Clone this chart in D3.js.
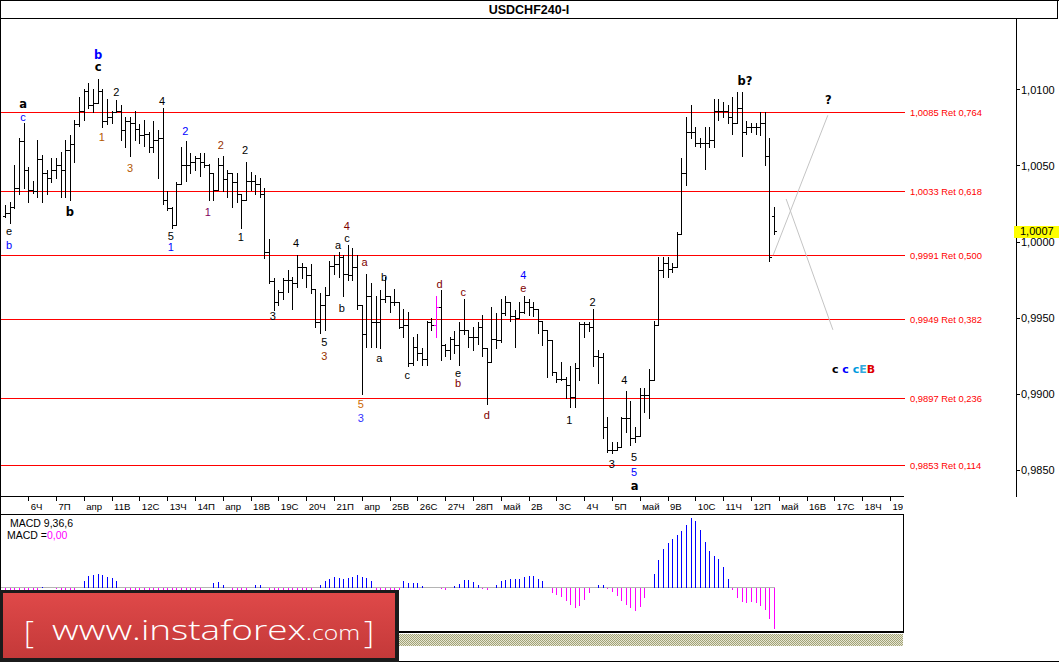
<!DOCTYPE html>
<html>
<head>
<meta charset="utf-8">
<script src="https://cdn.jsdelivr.net/npm/d3@7"></script>
<style>
body { margin: 0; background: #fff; }
svg { display: block; }
text { font-family: "Liberation Sans", Arial, sans-serif; }
</style>
</head>
<body>
<div id="chart"></div>
<script>
//size of the picture
var W = 1059, H = 662;

//USDCHF H4 bars, bar 0 is the first bar on the left
var opens = [
1.0017,1.0019,1.0023,1.0035,1.0066,1.0047,1.0034,1.0033,1.0054,1.0045,
1.0042,1.0047,1.0050,1.0047,1.0060,1.0064,1.0077,1.0086,1.0099,1.0090,
1.0091,1.0099,1.0079,1.0082,1.0085,1.0086,1.0073,1.0079,1.0078,1.0074,
1.0070,1.0071,1.0062,1.0067,1.0068,1.0027,1.0022,1.0011,1.0038,1.0050,
1.0050,1.0052,1.0055,1.0052,1.0050,1.0045,1.0034,1.0050,1.0041,1.0045,
1.0039,1.0031,1.0027,1.0040,1.0040,1.0038,1.0031,0.9993,0.9974,0.9960,
0.9967,0.9975,0.9975,0.9973,0.9983,0.9983,0.9978,0.9969,0.9947,0.9958,
0.9965,0.9984,0.9985,0.9990,0.9979,0.9978,0.9983,0.9958,0.9939,0.9964,
0.9947,0.9947,0.9962,0.9964,0.9960,0.9960,0.9944,0.9945,0.9920,0.9931,
0.9927,0.9923,0.9947,0.9945,0.9957,0.9932,0.9929,0.9936,0.9932,0.9942,
0.9942,0.9937,0.9937,0.9944,0.9930,0.9921,0.9936,0.9935,0.9953,0.9960,
0.9951,0.9950,0.9954,0.9960,0.9957,0.9956,0.9948,0.9942,0.9935,0.9914,
0.9910,0.9910,0.9906,0.9898,0.9917,0.9946,0.9946,0.9944,0.9925,0.9924,
0.9878,0.9863,0.9863,0.9865,0.9884,0.9884,0.9871,0.9872,0.9899,0.9899,
0.9909,0.9945,0.9981,0.9986,0.9982,0.9983,1.0005,1.0045,1.0072,1.0072,
1.0065,1.0065,1.0065,1.0067,1.0086,1.0086,1.0086,1.0082,1.0078,1.0088,
1.0072,1.0075,1.0075,1.0075,1.0078,1.0056,1.0017];
var highs = [
1.0024,1.0026,1.0050,1.0068,1.0078,1.0049,1.0040,1.0067,1.0057,1.0047,
1.0055,1.0055,1.0059,1.0067,1.0070,1.0080,1.0095,1.0100,1.0104,1.0100,
1.0107,1.0100,1.0094,1.0086,1.0093,1.0090,1.0082,1.0082,1.0086,1.0077,
1.0080,1.0072,1.0079,1.0073,1.0088,1.0033,1.0023,1.0039,1.0062,1.0066,
1.0058,1.0056,1.0058,1.0058,1.0051,1.0045,1.0055,1.0056,1.0047,1.0045,
1.0045,1.0031,1.0052,1.0046,1.0044,1.0042,1.0035,1.0002,0.9976,0.9968,
0.9976,0.9981,0.9977,0.9991,0.9986,0.9983,0.9985,0.9969,0.9966,0.9970,
0.9987,0.9991,0.9993,0.9991,0.9998,0.9996,0.9991,0.9958,0.9979,0.9973,
0.9964,0.9968,0.9977,0.9964,0.9969,0.9960,0.9956,0.9954,0.9937,0.9939,
0.9930,0.9948,0.9950,0.9964,0.9968,0.9933,0.9937,0.9941,0.9947,0.9962,
0.9942,0.9944,0.9947,0.9952,0.9930,0.9957,0.9953,0.9962,0.9964,0.9960,
0.9955,0.9960,0.9964,0.9962,0.9960,0.9956,0.9948,0.9942,0.9935,0.9914,
0.9921,0.9911,0.9918,0.9920,0.9947,0.9947,0.9947,0.9956,0.9929,0.9927,
0.9885,0.9868,0.9868,0.9885,0.9902,0.9895,0.9878,0.9904,0.9904,0.9916,
0.9948,0.9990,0.9990,0.9990,0.9986,1.0006,1.0055,1.0082,1.0090,1.0075,
1.0068,1.0075,1.0075,1.0094,1.0094,1.0092,1.0090,1.0095,1.0098,1.0098,
1.0079,1.0078,1.0078,1.0085,1.0085,1.0068,1.0023];
var lows = [
1.0016,1.0012,1.0022,1.0031,1.0035,1.0026,1.0032,1.0029,1.0026,1.0031,
1.0039,1.0042,1.0029,1.0029,1.0027,1.0052,1.0076,1.0080,1.0088,1.0085,
1.0091,1.0075,1.0077,1.0078,1.0085,1.0067,1.0062,1.0056,1.0067,1.0065,
1.0063,1.0059,1.0059,1.0042,1.0025,1.0021,1.0009,1.0011,1.0038,1.0040,
1.0045,1.0047,1.0043,1.0049,1.0027,1.0027,1.0034,1.0033,1.0029,1.0023,
1.0026,1.0009,1.0027,1.0034,1.0031,1.0029,0.9989,0.9973,0.9955,0.9958,
0.9962,0.9967,0.9956,0.9970,0.9976,0.9970,0.9966,0.9944,0.9940,0.9942,
0.9965,0.9979,0.9977,0.9964,0.9975,0.9975,0.9956,0.9900,0.9931,0.9931,
0.9931,0.9930,0.9960,0.9954,0.9958,0.9943,0.9937,0.9918,0.9919,0.9922,
0.9919,0.9919,0.9942,0.9937,0.9922,0.9925,0.9923,0.9927,0.9919,0.9939,
0.9931,0.9929,0.9933,0.9925,0.9893,0.9921,0.9930,0.9934,0.9952,0.9948,
0.9931,0.9950,0.9953,0.9952,0.9951,0.9940,0.9932,0.9911,0.9912,0.9908,
0.9909,0.9897,0.9891,0.9891,0.9909,0.9937,0.9941,0.9918,0.9907,0.9871,
0.9862,0.9861,0.9863,0.9865,0.9875,0.9866,0.9868,0.9872,0.9888,0.9884,
0.9909,0.9945,0.9977,0.9977,0.9980,0.9983,1.0005,1.0037,1.0068,1.0063,
1.0062,1.0048,1.0062,1.0062,1.0080,1.0082,1.0078,1.0071,1.0078,1.0056,
1.0071,1.0072,1.0071,1.0070,1.0050,0.9987,1.0005];
var closes = [
1.0019,1.0023,1.0035,1.0066,1.0047,1.0034,1.0033,1.0054,1.0045,1.0042,
1.0047,1.0050,1.0047,1.0060,1.0064,1.0077,1.0086,1.0099,1.0090,1.0091,
1.0099,1.0079,1.0082,1.0085,1.0086,1.0073,1.0079,1.0078,1.0074,1.0070,
1.0071,1.0062,1.0067,1.0068,1.0027,1.0022,1.0011,1.0038,1.0050,1.0050,
1.0052,1.0055,1.0052,1.0050,1.0045,1.0034,1.0050,1.0041,1.0045,1.0039,
1.0031,1.0027,1.0040,1.0040,1.0038,1.0031,0.9993,0.9974,0.9960,0.9967,
0.9975,0.9975,0.9973,0.9983,0.9983,0.9978,0.9969,0.9947,0.9958,0.9965,
0.9984,0.9985,0.9990,0.9979,0.9978,0.9983,0.9958,0.9939,0.9964,0.9947,
0.9947,0.9962,0.9964,0.9960,0.9960,0.9944,0.9945,0.9920,0.9931,0.9927,
0.9923,0.9947,0.9945,0.9957,0.9932,0.9929,0.9936,0.9932,0.9942,0.9942,
0.9937,0.9937,0.9944,0.9930,0.9921,0.9936,0.9935,0.9953,0.9960,0.9951,
0.9950,0.9954,0.9960,0.9957,0.9956,0.9948,0.9942,0.9935,0.9914,0.9910,
0.9910,0.9906,0.9898,0.9917,0.9946,0.9946,0.9944,0.9925,0.9924,0.9878,
0.9863,0.9863,0.9865,0.9884,0.9884,0.9871,0.9872,0.9899,0.9899,0.9909,
0.9945,0.9981,0.9986,0.9982,0.9983,1.0005,1.0045,1.0072,1.0072,1.0065,
1.0065,1.0065,1.0067,1.0086,1.0086,1.0086,1.0082,1.0078,1.0088,1.0072,
1.0075,1.0075,1.0075,1.0078,1.0056,0.9990,1.0007];
//the one bar drawn in magenta
var magentaBars = [93];

//MACD 9,36,6 histogram, in points (0.00001)
var macd = [
-12,-12,-12,-12,-12,-12,-8,-8,4,0,
0,-4,-12,-12,-12,-8,0,28,48,52,
56,52,44,40,28,0,-8,-16,-20,-24,
-28,-28,-32,-32,-32,-28,-32,-40,-36,-28,
-20,-16,-12,0,0,20,24,12,0,-12,
-16,-16,-12,0,12,12,0,-12,-24,-36,
-40,-40,-36,-32,-24,-16,-8,0,12,28,
36,44,40,36,40,44,52,44,40,28,
-8,-16,-20,-20,-16,-8,28,20,20,20,
8,0,0,0,-4,-8,0,8,16,32,
32,24,12,-4,-8,0,12,28,32,36,
36,36,44,48,48,36,28,0,-20,-28,
-36,-52,-68,-80,-72,-48,-20,0,12,12,
-4,-16,-32,-52,-68,-80,-92,-76,-40,0,
56,112,156,180,196,212,228,252,280,268,
232,184,148,128,116,84,36,-8,-40,-56,
-60,-56,-60,-72,-88,-124,-164];

//day labels, first one on bar 5 then one every 6 bars
var dayLabels = ["6Ч","7П","апр","11В","12С","13Ч","14П","апр","18В","19С","20Ч","21П","апр","25В","26С","27Ч","28П","май","2В","3С","4Ч","5П","май","9В","10С","11Ч","12П","май","16В","17С","18Ч","19П"];
var firstDayBar = 5, barsPerDay = 6;

//price axis
var priceTicks = [0.985, 0.990, 0.995, 1.000, 1.005, 1.010];
var lastPrice = 1.0007;

//retracement levels
var fibLevels = [1.0085, 1.0033, 0.9991, 0.9949, 0.9897, 0.9853];
var fibRatios = ["0,764", "0,618", "0,500", "0,382", "0,236", "0,114"];

//gray forecast lines [bar, price]
var forecastLines = [
    [[165.8, 0.9991], [177.6, 1.0083]],
    [[168.6, 1.0028], [178.7, 0.9942]]
];

//wave marks: bar, price, text, color, bold
var waveLabels = [
    [0.9, 1.0007, "e", "#000", 0],
    [0.9, 0.9998, "b", "#0000ff", 0],
    [3.9, 1.00904, "a", "#000", 1],
    [3.9, 1.00819, "c", "#0000ff", 0],
    [20.1, 1.01226, "b", "#0000ff", 1],
    [20.1, 1.01147, "c", "#000", 1],
    [14.0, 1.00195, "b", "#000", 1],
    [20.9, 1.00687, "1", "#b35900", 0],
    [24.0, 1.00983, "2", "#000", 0],
    [27.0, 1.00484, "3", "#b35900", 0],
    [33.9, 1.00924, "4", "#000", 0],
    [35.8, 1.00037, "5", "#000", 0],
    [35.8, 0.99962, "1", "#0000ff", 0],
    [38.9, 1.00727, "2", "#0000ff", 0],
    [43.8, 1.00195, "1", "#800060", 0],
    [46.6, 1.00635, "2", "#993300", 0],
    [50.9, 1.0003, "1", "#000", 0],
    [51.8, 1.00602, "2", "#000", 0],
    [57.8, 0.99511, "3", "#000", 0],
    [62.8, 0.99991, "4", "#000", 0],
    [68.9, 0.9934, "5", "#000", 0],
    [68.9, 0.99248, "3", "#993300", 0],
    [71.9, 0.9998, "a", "#000", 0],
    [72.7, 0.99564, "b", "#000", 0],
    [73.8, 1.00024, "c", "#000", 0],
    [73.8, 1.00103, "4", "#800000", 0],
    [77.6, 0.99866, "a", "#800000", 0],
    [76.8, 0.98933, "5", "#cc6600", 0],
    [76.8, 0.98841, "3", "#3333ff", 0],
    [81.8, 0.99767, "b", "#000", 0],
    [80.8, 0.99235, "a", "#000", 0],
    [86.8, 0.99123, "c", "#000", 0],
    [93.8, 0.99721, "d", "#800000", 0],
    [98.9, 0.99669, "c", "#800000", 0],
    [97.8, 0.99136, "e", "#000", 0],
    [97.8, 0.99071, "b", "#800000", 0],
    [104.0, 0.9886, "d", "#800000", 0],
    [111.9, 0.9978, "4", "#0000ff", 0],
    [111.9, 0.99695, "e", "#800000", 0],
    [121.8, 0.98828, "1", "#000", 0],
    [126.8, 0.99603, "2", "#000", 0],
    [133.7, 0.9909, "4", "#000", 0],
    [131.0, 0.98538, "3", "#000", 0],
    [135.8, 0.98584, "5", "#000", 0],
    [135.8, 0.98486, "5", "#0000ff", 0],
    [135.9, 0.98394, "a", "#000", 1],
    [159.7, 1.01055, "b?", "#000", 1],
    [177.7, 1.00931, "?", "#000", 1]
];
//the colored "c c c E B" mark
var scenarioMark = {bar: 178.5, price: 0.99163,
    parts: [["c ", "#000"], ["c ", "#0000ff"], ["c", "#0099dd"], ["E", "#33aadd"], ["B", "#dd0000"]]};

//formats like 1,0085
function fmt(p) {
    return d3.format(".4f")(p).replace(".", ",");
}

//scales
var x = d3.scaleLinear().domain([0, 194]).range([5, 903.8]);
var y = d3.scaleLinear().domain([0.985, 1.010]).range([469.8, 89.4]);
var yMacd = d3.scaleLinear()
    .domain([d3.min(macd) - 8, d3.max(macd) + 8])
    .range([630, 515]);

function cx(i) { return Math.round(x(i)) + 0.5; }
function cy(p) { return Math.round(y(p)) + 0.5; }

var svg = d3.select("#chart").append("svg").attr("width", W).attr("height", H);
svg.append("rect").attr("width", W).attr("height", H).attr("fill", "#fff");

var defs = svg.append("defs");
var grad = defs.append("linearGradient").attr("id", "boxRed")
    .attr("x1", 0).attr("y1", 0).attr("x2", 0).attr("y2", 1);
grad.append("stop").attr("offset", "0%").attr("stop-color", "#df4949");
grad.append("stop").attr("offset", "100%").attr("stop-color", "#c43939");
var pat = defs.append("pattern").attr("id", "hatch")
    .attr("width", 2).attr("height", 2).attr("patternUnits", "userSpaceOnUse");
pat.append("rect").attr("width", 2).attr("height", 2).attr("fill", "#e6e6d4");
pat.append("rect").attr("width", 1).attr("height", 1).attr("fill", "#a3a377");
pat.append("rect").attr("x", 1).attr("y", 1).attr("width", 1).attr("height", 1).attr("fill", "#a3a377");
defs.append("clipPath").attr("id", "plotClip").append("rect")
    .attr("x", 1).attr("y", 19).attr("width", 903).attr("height", 477);
defs.append("clipPath").attr("id", "axisClip").append("rect")
    .attr("x", 1).attr("y", 496).attr("width", 902).attr("height", 18);

var frame = svg.append("g").attr("stroke", "#000").attr("shape-rendering", "crispEdges");
function seg(g, x1, y1, x2, y2) {
    return g.append("line").attr("x1", x1).attr("y1", y1).attr("x2", x2).attr("y2", y2);
}

//title bar
seg(frame, 0, 0.5, W, 0.5);
seg(frame, 0, 18.5, W - 1, 18.5);
seg(frame, W - 1.5, 0, W - 1.5, 18.5);
seg(frame, 0.5, 0, 0.5, H);
seg(frame, 0, H - 0.5, W, H - 0.5);
svg.append("text").attr("x", 529).attr("y", 14).attr("text-anchor", "middle")
    .attr("font-size", 12.5).attr("font-weight", "bold").text("USDCHF240-I");

//bottom of price panel and price axis line
seg(frame, 0, 496.5, 904, 496.5);
seg(frame, 1016.5, 18, 1016.5, 497);

//fibo levels, drawn as 1px rows so they stay pure red
var fib = svg.append("g");
fib.selectAll("rect").data(fibLevels).enter().append("rect")
    .attr("x", 1).attr("width", x(194.3) - 1)
    .attr("y", function (d) { return Math.round(y(d)); })
    .attr("height", 1)
    .attr("fill", "#ff0000").attr("shape-rendering", "crispEdges");
fib.selectAll("text").data(fibLevels).enter().append("text")
    .attr("x", 910)
    .attr("y", function (d) { return y(d) + 3.5; })
    .attr("font-size", 9.4).attr("fill", "#ff0000")
    .text(function (d, i) { return fmt(d) + " Ret " + fibRatios[i]; });

//forecast lines
svg.append("g").selectAll("line").data(forecastLines).enter().append("line")
    .attr("x1", function (d) { return x(d[0][0]); })
    .attr("y1", function (d) { return y(d[0][1]); })
    .attr("x2", function (d) { return x(d[1][0]); })
    .attr("y2", function (d) { return y(d[1][1]); })
    .attr("stroke", "#c4c4c4").attr("stroke-width", 1);

//price bars
var bars = d3.range(closes.length).map(function (i) {
    return {i: i, o: opens[i], h: highs[i], l: lows[i], c: closes[i]};
});
var plot = svg.append("g").attr("clip-path", "url(#plotClip)").attr("shape-rendering", "crispEdges");
var bar = plot.selectAll("g.bar").data(bars).enter().append("g")
    .attr("class", "bar")
    .attr("stroke", function (d) { return magentaBars.indexOf(d.i) >= 0 ? "#ff00ff" : "#000"; });
bar.append("line")
    .attr("x1", function (d) { return cx(d.i); })
    .attr("x2", function (d) { return cx(d.i); })
    .attr("y1", function (d) { return Math.round(y(d.h)); })
    .attr("y2", function (d) { return Math.round(y(d.l)) + 1; });
bar.append("line")
    .attr("x1", function (d) { return cx(d.i) - 2.5; })
    .attr("x2", function (d) { return cx(d.i); })
    .attr("y1", function (d) { return cy(d.o); })
    .attr("y2", function (d) { return cy(d.o); });
bar.append("line")
    .attr("x1", function (d) { return cx(d.i); })
    .attr("x2", function (d) { return cx(d.i) + 2.5; })
    .attr("y1", function (d) { return cy(d.c); })
    .attr("y2", function (d) { return cy(d.c); });

//wave labels
svg.append("g").selectAll("text").data(waveLabels).enter().append("text")
    .attr("x", function (d) { return x(d[0]); })
    .attr("y", function (d) { return y(d[1]) + 4; })
    .attr("text-anchor", "middle")
    .attr("fill", function (d) { return d[3]; })
    .attr("font-size", function (d) { return d[4] ? 11.5 : 11; })
    .attr("font-weight", function (d) { return d[4] ? "bold" : "normal"; })
    .style("font-family", function (d) { return d[4] ? "'DejaVu Sans', Verdana, sans-serif" : null; })
    .text(function (d) { return d[2]; });

var mark = svg.append("text")
    .attr("x", x(scenarioMark.bar)).attr("y", y(scenarioMark.price) + 4)
    .attr("font-size", 11).attr("font-weight", "bold")
    .style("font-family", "'DejaVu Sans', Verdana, sans-serif");
mark.selectAll("tspan").data(scenarioMark.parts).enter().append("tspan")
    .attr("fill", function (d) { return d[1]; })
    .text(function (d) { return d[0]; });

//price axis
var pa = svg.append("g");
pa.selectAll("line").data(priceTicks).enter().append("line")
    .attr("x1", 1016).attr("x2", 1020)
    .attr("y1", function (d) { return cy(d); })
    .attr("y2", function (d) { return cy(d); })
    .attr("stroke", "#000").attr("shape-rendering", "crispEdges");
pa.selectAll("text").data(priceTicks).enter().append("text")
    .attr("x", 1021).attr("y", function (d) { return y(d) + 4.5; })
    .attr("font-size", 11).text(fmt);

//last price tag
svg.append("rect").attr("x", 1014).attr("y", Math.round(y(lastPrice)) - 5)
    .attr("width", 45).attr("height", 12).attr("fill", "#ffff00");
svg.append("text").attr("x", 1020).attr("y", y(lastPrice) + 4.5)
    .attr("font-size", 11).text(fmt(lastPrice));

//day axis
var days = svg.append("g").attr("clip-path", "url(#axisClip)");
days.selectAll("line").data(dayLabels).enter().append("line")
    .attr("x1", function (d, k) { return cx(firstDayBar + k * barsPerDay); })
    .attr("x2", function (d, k) { return cx(firstDayBar + k * barsPerDay); })
    .attr("y1", 497).attr("y2", 501)
    .attr("stroke", "#000").attr("shape-rendering", "crispEdges");
days.selectAll("text").data(dayLabels).enter().append("text")
    .attr("x", function (d, k) { return x(firstDayBar + k * barsPerDay) + 2.5; })
    .attr("y", 509.5)
    .attr("font-size", 9.6)
    .text(function (d) { return d; });

//MACD panel
var mp = svg.append("g").attr("shape-rendering", "crispEdges");
mp.append("rect").attr("x", 0.5).attr("y", 514.5).attr("width", 902.5).attr("height", 117)
    .attr("fill", "none").attr("stroke", "#000");
seg(mp, 0, 632, 903.5, 632).attr("stroke", "#000");
mp.append("rect").attr("x", 0).attr("y", 634).attr("width", 903).attr("height", 12).attr("fill", "url(#hatch)");
seg(mp, 1, Math.round(yMacd(0)) + 0.5, cx(macd.length - 1), Math.round(yMacd(0)) + 0.5)
    .attr("stroke", "#b4b4b4");
mp.selectAll("line.h").data(macd).enter().append("line")
    .attr("class", "h")
    .attr("x1", function (d, i) { return cx(i); })
    .attr("x2", function (d, i) { return cx(i); })
    .attr("y1", Math.round(yMacd(0)) + 0.5)
    .attr("y2", function (d) { return Math.round(yMacd(d)) + 0.5; })
    .attr("stroke", function (d) { return d > 0 ? "#0000ff" : "#ff00ff"; });

svg.append("text").attr("x", 10).attr("y", 527).attr("font-size", 10.5).text("MACD 9,36,6");
var mv = svg.append("text").attr("x", 7).attr("y", 538.5).attr("font-size", 10.5);
mv.append("tspan").text("MACD =");
mv.append("tspan").attr("fill", "#ff00ff").text("0,00");

//watermark box
var wm = svg.append("g");
wm.append("rect").attr("x", 0).attr("y", 590).attr("width", 399).attr("height", 72).attr("fill", "#1b1b1b");
wm.append("rect").attr("x", 3).attr("y", 593).attr("width", 392).attr("height", 65).attr("fill", "url(#boxRed)");
wm.append("text").attr("x", 24).attr("y", 643).attr("fill", "#fff")
    .attr("font-size", 31).attr("font-weight", 300).style("font-family", "'Open Sans', sans-serif").text("[");
wm.append("text").attr("x", 52).attr("y", 640).attr("fill", "#fff")
    .attr("font-size", 28).attr("font-weight", 300).style("font-family", "'Open Sans', sans-serif")
    .attr("textLength", 254).attr("lengthAdjust", "spacingAndGlyphs").text("www.instaforex");
wm.append("text").attr("x", 306).attr("y", 640).attr("fill", "#fff")
    .attr("font-size", 19.5).attr("font-weight", 300).style("font-family", "'Open Sans', sans-serif")
    .attr("textLength", 54).attr("lengthAdjust", "spacingAndGlyphs").text(".com");
wm.append("text").attr("x", 364).attr("y", 643).attr("fill", "#fff")
    .attr("font-size", 31).attr("font-weight", 300).style("font-family", "'Open Sans', sans-serif").text("]");
</script>
</body>
</html>
